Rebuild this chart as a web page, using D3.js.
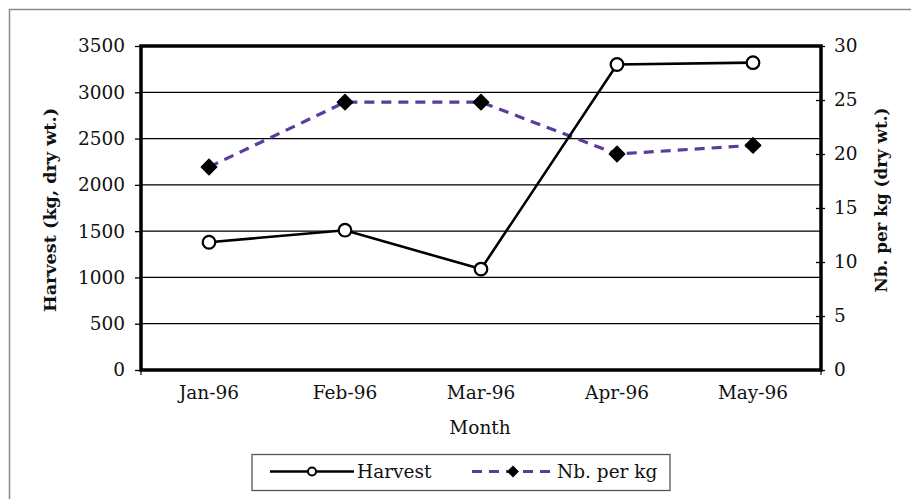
<!DOCTYPE html>
<html><head><meta charset="utf-8">
<script src="https://cdn.jsdelivr.net/npm/d3@7"></script>
<style>html,body{margin:0;padding:0;background:#fff;}svg{display:block;}</style>
</head><body>
<script>
const months = ["Jan-96","Feb-96","Mar-96","Apr-96","May-96"];
const harvest = [1380, 1510, 1090, 3300, 3320];
const nbPerKg = [18.8, 24.8, 24.8, 20.0, 20.8];
const leftTicks = [0,500,1000,1500,2000,2500,3000,3500];
const rightTicks = [0,5,10,15,20,25,30];

const W = 911, H = 499;
const font = "'DejaVu Serif', 'Liberation Serif', serif";
const txt = "#111";
const svg = d3.select("body").append("svg").attr("width", W).attr("height", H);

// outer frame (top and left edges visible)
svg.append("path").attr("d", `M9.5,${H} L9.5,9.5 L${W},9.5`).attr("fill","none").attr("stroke","#8a8a8a").attr("stroke-width",1.5);

const x0 = 141, x1 = 821, yTop = 46, yBot = 370;
const x = d3.scaleBand().domain(months).range([x0, x1]);
const yL = d3.scaleLinear().domain([0, 3500]).range([yBot, yTop]);
const yR = d3.scaleLinear().domain([0, 30]).range([yBot, yTop]);

// gridlines
svg.append("g").selectAll("line").data(leftTicks.filter(d => d > 0 && d < 3500)).join("line")
  .attr("x1", x0).attr("x2", x1).attr("y1", d => yL(d)).attr("y2", d => yL(d))
  .attr("stroke", "#000").attr("stroke-width", 1.3);

// left axis
const gL = svg.append("g").attr("transform", `translate(${x0},0)`)
  .call(d3.axisLeft(yL).tickValues(leftTicks).tickSize(6).tickPadding(10).tickFormat(d3.format("d")));
gL.select(".domain").remove();
gL.selectAll("line").attr("stroke-width", 1.3);
gL.selectAll("text").attr("font-family", font).attr("font-size", 18.5).attr("fill", txt);

// right axis
const gR = svg.append("g").attr("transform", `translate(${x1},0)`)
  .call(d3.axisRight(yR).tickValues(rightTicks).tickSize(4).tickPadding(9));
gR.select(".domain").remove();
gR.selectAll("line").attr("x1", -5).attr("stroke-width", 1.3);
gR.selectAll("text").attr("font-family", font).attr("font-size", 18.5).attr("fill", txt);

// bottom axis
const gB = svg.append("g").attr("transform", `translate(0,${yBot})`)
  .call(d3.axisBottom(x).tickSize(0).tickPadding(16));
gB.select(".domain").remove();
gB.selectAll("text").attr("font-family", font).attr("font-size", 18.5).attr("fill", txt);
svg.append("g").selectAll("line").data([x0, x1]).join("line")
  .attr("x1", d => d).attr("x2", d => d).attr("y1", yBot).attr("y2", yBot + 5)
  .attr("stroke", "#000").attr("stroke-width", 1.2);

// plot border
svg.append("rect").attr("x", x0).attr("y", yTop).attr("width", x1 - x0).attr("height", yBot - yTop)
  .attr("fill", "none").attr("stroke", "#000").attr("stroke-width", 3.5);

const cx = d => x(d) + x.bandwidth() / 2;
const purple = "#5b3b9b";

// Nb per kg series
const nbData = months.map((m, i) => [m, nbPerKg[i]]);
svg.append("path").datum(nbData)
  .attr("d", d3.line().x(d => cx(d[0])).y(d => yR(d[1])))
  .attr("fill", "none").attr("stroke", purple).attr("stroke-width", 3.2).attr("stroke-dasharray", "10,7");
svg.append("g").selectAll("path").data(nbData).join("path")
  .attr("d", d3.symbol(d3.symbolDiamond2, 150))
  .attr("transform", d => `translate(${cx(d[0])},${yR(d[1])})`)
  .attr("fill", "#000").attr("stroke", "#000").attr("stroke-width", 1.5).attr("stroke-linejoin","round");

// Harvest series
const hData = months.map((m, i) => [m, harvest[i]]);
svg.append("path").datum(hData)
  .attr("d", d3.line().x(d => cx(d[0])).y(d => yL(d[1])))
  .attr("fill", "none").attr("stroke", "#000").attr("stroke-width", 2.6);
svg.append("g").selectAll("circle").data(hData).join("circle")
  .attr("cx", d => cx(d[0])).attr("cy", d => yL(d[1])).attr("r", 6.3)
  .attr("fill", "#fff").attr("stroke", "#000").attr("stroke-width", 2.2);

// axis titles
svg.append("text").attr("transform", `translate(56,210) rotate(-90)`).attr("text-anchor", "middle")
  .attr("font-family", font).attr("font-weight", "bold").attr("font-size", 16.5).attr("fill", txt)
  .attr("textLength", 204).attr("lengthAdjust", "spacingAndGlyphs")
  .text("Harvest (kg, dry wt.)");
svg.append("text").attr("transform", `translate(887,200) rotate(-90)`).attr("text-anchor", "middle")
  .attr("font-family", font).attr("font-weight", "bold").attr("font-size", 16.5).attr("fill", txt)
  .attr("textLength", 185).attr("lengthAdjust", "spacingAndGlyphs")
  .text("Nb. per kg (dry wt.)");
svg.append("text").attr("x", 480).attr("y", 434).attr("text-anchor", "middle")
  .attr("font-family", font).attr("font-size", 18.5).attr("fill", txt).text("Month");

// legend
const lg = svg.append("g");
lg.append("rect").attr("x", 252).attr("y", 454.5).attr("width", 418).attr("height", 36)
  .attr("fill", "#fff").attr("stroke", "#555").attr("stroke-width", 1.3);
const ly = 471.5;
lg.append("line").attr("x1", 270).attr("x2", 354).attr("y1", ly).attr("y2", ly).attr("stroke", "#000").attr("stroke-width", 2.6);
lg.append("circle").attr("cx", 312).attr("cy", ly).attr("r", 4).attr("fill", "#fff").attr("stroke", "#000").attr("stroke-width", 2);
lg.append("text").attr("x", 357).attr("y", ly + 6).attr("font-family", font).attr("font-size", 18.5).attr("fill", txt).text("Harvest");
lg.append("line").attr("x1", 472).attr("x2", 552).attr("y1", ly).attr("y2", ly).attr("stroke", purple).attr("stroke-width", 3.2).attr("stroke-dasharray", "10,7");
lg.append("path").attr("d", d3.symbol(d3.symbolDiamond2, 90)).attr("transform", `translate(513,${ly})`).attr("fill", "#000");
lg.append("text").attr("x", 557).attr("y", ly + 6).attr("font-family", font).attr("font-size", 18.5).attr("fill", txt).text("Nb. per kg");
</script>
</body></html>
